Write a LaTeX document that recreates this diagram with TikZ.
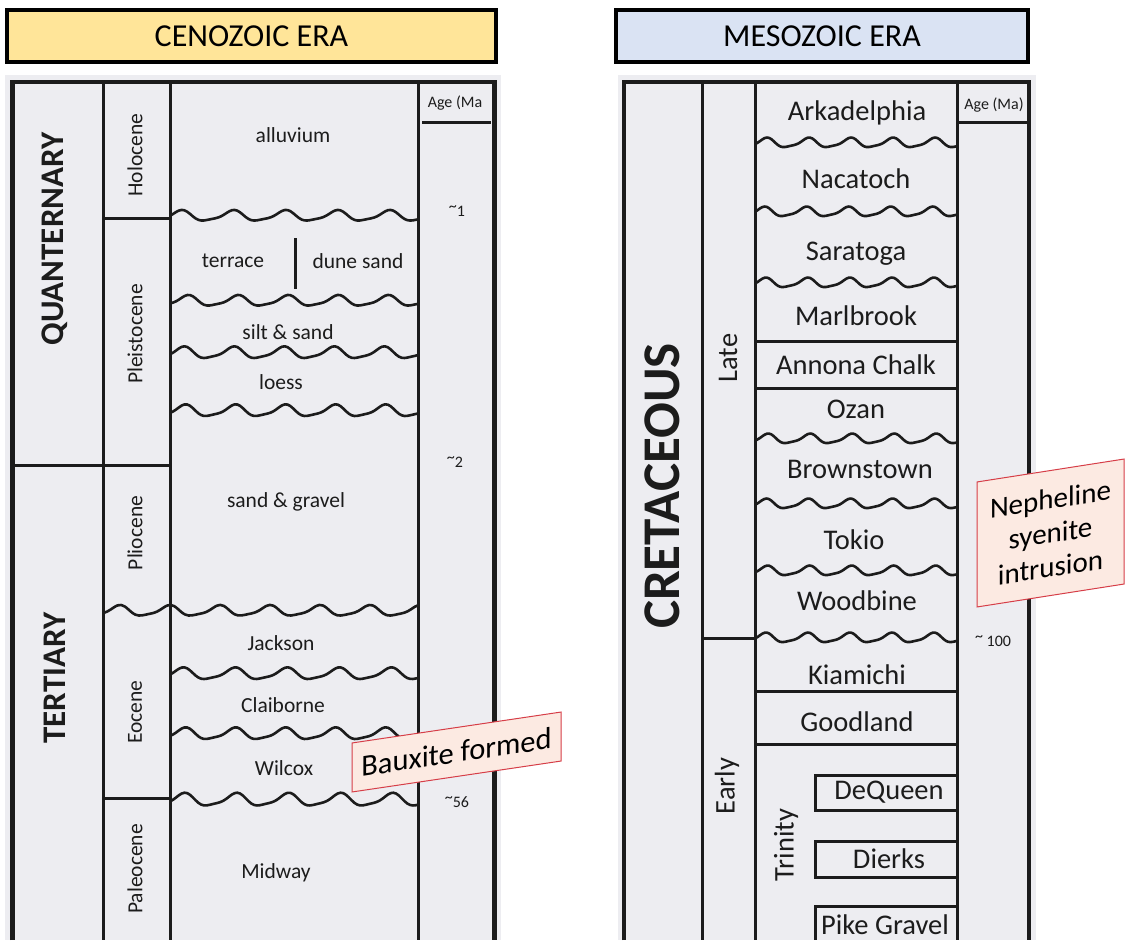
\documentclass[tikz,border=0pt]{standalone}
\usepackage{fontspec}
\setmainfont{Carlito}
\definecolor{bggray}{RGB}{237,237,241}
\definecolor{cenoz}{RGB}{255,229,153}
\definecolor{mesoz}{RGB}{218,227,243}
\definecolor{callfill}{RGB}{252,234,226}
\definecolor{callline}{RGB}{214,62,72}
\definecolor{ink}{RGB}{28,28,28}
\tikzset{
  border/.style={line width=4.5pt, draw=ink, line join=miter},
  colline/.style={line width=3pt, draw=ink},
  wave/.style={line width=2.6pt, draw=ink, line join=round},
  titlebox/.style={draw=black, line width=4pt, inner sep=0pt, font=\fontsize{32}{38}\selectfont},
  lyrL/.style={inner sep=0pt, text=ink, font=\fontsize{21.5}{25}\selectfont},
  lyrR/.style={inner sep=0pt, text=ink, font=\fontsize{28.5}{33}\selectfont},
  epochL/.style={lyrL, rotate=90},
  epochR/.style={lyrR, rotate=90},
  period/.style={inner sep=0pt, text=ink, rotate=90, font=\bfseries\fontsize{33}{38}\selectfont},
  agelab/.style={inner sep=0pt, text=ink, font=\fontsize{16}{19}\selectfont},
  callout/.style={draw=callline, fill=callfill, line width=1pt, transform shape, inner sep=0pt, align=center, text=black, font=\fontsize{29}{34}\selectfont}
}
\newcommand\tld{\raisebox{0.3em}{\textasciitilde}}
% #1 x start, #2 x end, #3 y, #4 period, #5 amplitude, #6 phase
\newcommand\wavy[6]{%
  \draw[wave] plot[domain=#1:#2, samples=90, smooth]
    (\x, {#3 + #5*sin((\x-#1)/#4*360+#6) + 0.25*#5*sin((\x-#1)/#4*720+2*#6+50)});}
\begin{document}
\begin{tikzpicture}[x=1pt,y=-1pt]
\useasboundingbox (0,0) rectangle (1126,940);
% backgrounds
\fill[bggray] (5,75) rectangle (501,940);
\fill[bggray] (618,75) rectangle (1036,940);
% titles
\node[titlebox, fill=cenoz, minimum width=489pt, minimum height=52pt] (cenotitle) at (251.5,36) {CENOZOIC ERA};
\node[titlebox, fill=mesoz, minimum width=412pt, minimum height=52pt] (mesotitle) at (822,36) {MESOZOIC ERA};

% ================= CENOZOIC TABLE =================
\draw[border] (12.5,940) -- (12.5,82) -- (494.5,82) -- (494.5,940);
\draw[colline] (103.5,82) -- (103.5,940);
\draw[colline] (170.5,82) -- (170.5,940);
\draw[colline] (418.5,82) -- (418.5,940);
\draw[colline] (103.5,218) -- (170.5,218);
\draw[colline] (12.5,465) -- (170.5,465);
\draw[colline] (103.5,798) -- (170.5,798);
\draw[colline] (422,122) -- (491,122);
\draw[colline] (295,238) -- (295,289);
% unconformities
\wavy{170.5}{418.5}{216}{52}{5}{200}
\wavy{170.5}{418.5}{301}{50}{5}{150}
\wavy{170.5}{418.5}{353}{50}{5.5}{180}
\wavy{170.5}{418.5}{411}{50}{5.5}{170}
\wavy{103.5}{418.5}{611}{50}{5}{160}
\wavy{170.5}{418.5}{674}{52}{5.5}{190}
\wavy{170.5}{418.5}{734}{50}{5.5}{170}
\wavy{170.5}{418.5}{800}{52}{6}{180}
% periods / epochs
\node[period] (quat) at (55,239) {QUANTERNARY};
\node[period] (tert) at (55,678) {TERTIARY};
\node[epochL] (holo) at (135,155) {Holocene};
\node[epochL] (pleis) at (135,334) {Pleistocene};
\node[epochL] (plio) at (135,533) {Pliocene};
\node[epochL] (eoc) at (135,712) {Eocene};
\node[epochL] (paleo) at (135,869) {Paleocene};
% formations
\node[lyrL] (alluv) at (293,135) {alluvium};
\node[lyrL] (terr) at (233,261) {terrace};
\node[lyrL] (dune) at (358,261) {dune sand};
\node[lyrL] (silt) at (288,332) {silt \& sand};
\node[lyrL] (loess) at (281,382) {loess};
\node[lyrL] (sandgr) at (286,502) {sand \& gravel};
\node[lyrL] (jack) at (281,643) {Jackson};
\node[lyrL] (claib) at (283,705) {Claiborne};
\node[lyrL] (wilc) at (284,768) {Wilcox};
\node[lyrL] (midw) at (276,873) {Midway};
% ages
\node[agelab] (ageL) at (455,103) {Age (Ma};
\node[agelab] (a1) at (457,211) {\tld1};
\node[agelab] (a2) at (455,462) {\tld2};
\node[agelab] (a56) at (457,802) {\tld56};

% ================= MESOZOIC TABLE =================
\draw[border] (624,940) -- (624,82) -- (1029,82) -- (1029,940);
\draw[colline] (702.5,82) -- (702.5,940);
\draw[colline] (755.5,82) -- (755.5,940);
\draw[colline] (957.5,82) -- (957.5,940);
\draw[colline] (702.5,638) -- (755.5,638);
\draw[colline] (957.5,122) -- (1029,122);
\draw[colline] (755.5,341) -- (957.5,341);
\draw[colline] (755.5,388) -- (957.5,388);
\draw[colline] (755.5,691.5) -- (957.5,691.5);
\draw[line width=3.8pt, draw=ink] (755.5,744.5) -- (957.5,744.5);
\draw[colline] (957.5,775) -- (815,775) -- (815,810) -- (957.5,810);
\draw[colline] (957.5,841) -- (815,841) -- (815,877) -- (957.5,877);
\draw[colline] (957.5,906) -- (815,906) -- (815,940);
\wavy{755.5}{957.5}{143}{42}{4.5}{180}
\wavy{755.5}{957.5}{212}{42}{4.5}{200}
\wavy{755.5}{957.5}{283}{42}{4.5}{190}
\wavy{755.5}{957.5}{439}{42}{4.5}{170}
\wavy{755.5}{957.5}{504}{42}{4.5}{185}
\wavy{755.5}{957.5}{571}{42}{4.5}{175}
\wavy{755.5}{957.5}{638}{42}{4.5}{190}
% period / epochs
\node[period, font=\bfseries\fontsize{53}{60}\selectfont] (cret) at (662,486) {CRETACEOUS};
\node[epochR] (late) at (728,358) {Late};
\node[epochR] (early) at (727,786) {Early};
\node[epochR] (trin) at (786,845) {Trinity};
% formations
\node[lyrR] (arka) at (857,113) {Arkadelphia};
\node[lyrR] (naca) at (856,179) {Nacatoch};
\node[lyrR] (sara) at (856,254) {Saratoga};
\node[lyrR] (marl) at (856,316) {Marlbrook};
\node[lyrR] (anno) at (856,365) {Annona Chalk};
\node[lyrR] (ozan) at (856,409) {Ozan};
\node[lyrR] (brown) at (860,469) {Brownstown};
\node[lyrR] (tokio) at (854,540) {Tokio};
\node[lyrR] (woodb) at (857,601) {Woodbine};
\node[lyrR] (kiam) at (857,675) {Kiamichi};
\node[lyrR] (goodl) at (857,722) {Goodland};
\node[lyrR] (dequ) at (889,792) {DeQueen};
\node[lyrR] (dierk) at (889,859) {Dierks};
\node[lyrR] (pike) at (885,925) {Pike Gravel};
% ages
\node[agelab] (ageR) at (994,105) {Age (Ma)};
\node[agelab] (a100) at (993,641) {\tld{} 100};

% ================= CALLOUTS =================
\begin{scope}[shift={(456.5,752)}]
  \node[callout, font=\fontsize{30.5}{36}\selectfont, minimum width=209pt, minimum height=49pt, yslant=0.148] (baux) at (0,0) {Bauxite formed};
\end{scope}
\begin{scope}[shift={(1050.5,533)}]
  \node[callout, minimum width=147pt, minimum height=125pt, yslant=0.156] (neph) at (0,0) {Nepheline\\syenite\\intrusion};
\end{scope}
\end{tikzpicture}
\end{document}
